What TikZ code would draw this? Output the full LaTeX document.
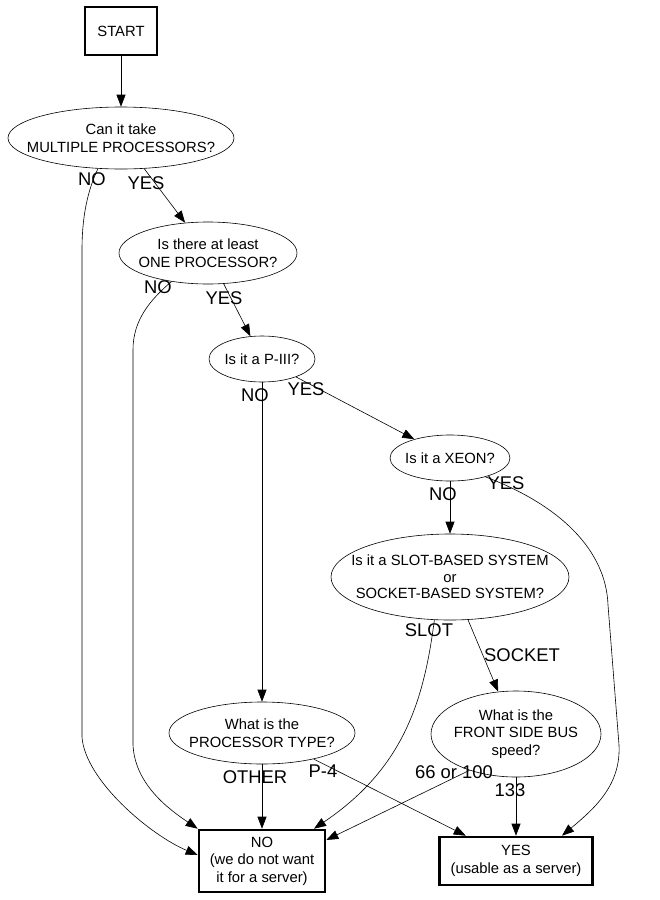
\documentclass[tikz,border=0pt]{standalone}
\usepackage{fontspec}
\setmainfont{Liberation Sans}
\usetikzlibrary{shapes.geometric,arrows.meta}
\begin{document}
\begin{tikzpicture}[x=1pt,y=-1pt,
  ell/.style={draw,ellipse,inner sep=0pt,line width=0.6pt},
  txt/.style={font=\fontsize{14.8}{17.5}\selectfont,align=center,inner sep=0pt},
  box/.style={draw,line width=2.6pt,rectangle,inner sep=0pt,font=\fontsize{14.8}{17.5}\selectfont,align=center},
  lbl/.style={font=\fontsize{18.4}{20}\selectfont,inner sep=0pt},
  arr/.style={line width=0.6pt,-{Triangle[length=12pt,width=9pt]}}]
\useasboundingbox (0,0) rectangle (659,900);
% nodes
\node[box,minimum width=72,minimum height=48] (start) at (121,31) {START};
\node[ell,minimum width=226,minimum height=62] (e1) at (121,138) {};
\node[txt] (t1) at (e1) {Can it take\\MULTIPLE PROCESSORS?};
\node[ell,minimum width=178,minimum height=62] (e2) at (208,253) {};
\node[txt] (t2) at (e2) {Is there at least\\ONE PROCESSOR?};
\node[ell,minimum width=106,minimum height=46] (p3) at (262,359) {};
\node[txt] (t3) at (p3) {Is it a P-III?};
\node[ell,minimum width=120,minimum height=46] (xe) at (450,458) {};
\node[txt] (t4) at (xe) {Is it a XEON?};
\node[ell,minimum width=238,minimum height=86] (ss) at (450,577) {};
\node[txt,font=\fontsize{14.8}{16.5}\selectfont] (t5) at (ss) {Is it a SLOT-BASED SYSTEM\\or\\SOCKET-BASED SYSTEM?};
\node[ell,minimum width=186,minimum height=62] (pt) at (262,733) {};
\node[txt] (t6) at (pt) {What is the\\PROCESSOR TYPE?};
\node[ell,minimum width=170,minimum height=86] (fsb) at (516,734) {};
\node[txt] (t7) at (fsb) {What is the\\FRONT SIDE BUS\\speed?};
\node[box,minimum width=126,minimum height=62] (no) at (262,861) {NO\\(we do not want\\it for a server)};
\node[box,minimum width=153,minimum height=48] (yes) at (516,861) {YES\\(usable as a server)};
% connectors
\draw[arr] (start) -- (e1);
\draw[arr] (e1) -- (e2);
\draw[arr] (e1.233) .. controls (88,190) and (82,215) .. (82,250) -- (82,737)
   .. controls (85,780) and (150,835) .. ([yshift=6pt]no.west);
\draw[arr] (e2) -- (p3);
\draw[arr] (e2.218) .. controls (150,300) and (133,320) .. (133,350) -- (133,745)
   .. controls (135,785) and (170,810) .. (no.north west);
\draw[arr] (p3) -- (xe);
\draw[arr] (p3) -- (pt);
\draw[arr] (xe) -- (ss);
\draw[arr] (xe.332) .. controls (560,505) and (606,550) .. (608,605) -- (619,745)
   .. controls (621,785) and (595,808) .. ([xshift=46pt]yes.north);
\draw[arr] (ss.250) .. controls (424,700) and (404,768) .. ([xshift=52pt]no.north);
\draw[arr] (ss) -- (fsb);
\draw[arr] (pt) -- (no);
\draw[arr] (pt) -- (yes);
\draw[arr] (fsb.218) -- ([yshift=21pt]no.east);
\draw[arr] (fsb) -- (yes);
% labels
\node[lbl] (l1) at (92,179) {NO};
\node[lbl] (l2) at (146,183) {YES};
\node[lbl] (l3) at (158,287) {NO};
\node[lbl] (l4) at (224,298) {YES};
\node[lbl] (l5) at (306,389) {YES};
\node[lbl] (l6) at (255,395) {NO};
\node[lbl] (l7) at (443,494) {NO};
\node[lbl] (l8) at (506,483) {YES};
\node[lbl] (l9) at (429,630) {SLOT};
\node[lbl] (l10) at (522,655) {SOCKET};
\node[lbl] (l11) at (255,777) {OTHER};
\node[lbl] (l12) at (323,771) {P-4};
\node[lbl] (l13) at (454,772) {66 or 100};
\node[lbl] (l14) at (510,790) {133};
\end{tikzpicture}
\end{document}
